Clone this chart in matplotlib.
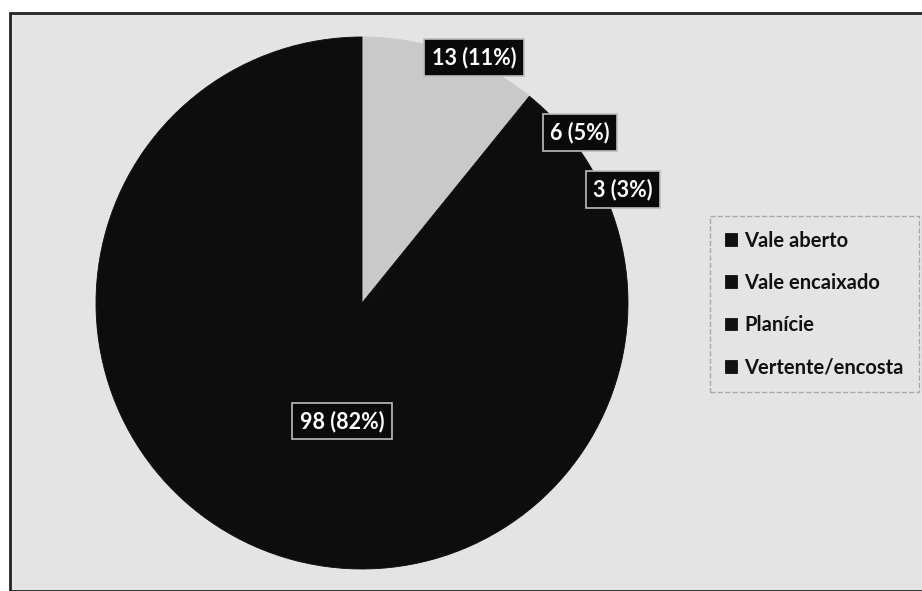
import numpy as np
import matplotlib.pyplot as plt
from matplotlib.patches import Rectangle

# relief classes and counts
categories = ["Vale aberto", "Vale encaixado", "Planície", "Vertente/encosta"]
counts = [13, 6, 3, 98]
percent_labels = ["11%", "5%", "3%", "82%"]

slice_colors = ["#c9c9c9", "#0d0d0d", "#0d0d0d", "#0d0d0d"]
legend_color = "#111111"

plt.rcParams["font.family"] = ["Lato", "DejaVu Sans"]

fig = plt.figure(figsize=(9.22, 5.91), dpi=100)
fig.patch.set_facecolor("white")

# chart area frame
fig.patches.append(Rectangle((10 / 922, 0), 1, 1 - 13 / 591, transform=fig.transFigure,
                             facecolor="#e4e4e4", edgecolor="#222222", linewidth=2.0, zorder=-10))

ax = fig.add_axes([96 / 922, 22 / 591, 532 / 922, 532 / 591])
ax.patch.set_alpha(0)

wedges, _ = ax.pie(counts, colors=slice_colors, startangle=90, counterclock=False,
                   radius=1.0, wedgeprops=dict(linewidth=0.6))
for w, c in zip(wedges, slice_colors):
    w.set_edgecolor(c)

ax.set_xlim(-1, 1)
ax.set_ylim(-1, 1)
ax.axis("off")

# label placement: radius factor and angle shift (degrees) per slice
label_r = [1.015, 1.04, 1.07, 0.45]
label_shift = [-5, -4, -5, 23.5]
for w, n, p, r, s in zip(wedges, counts, percent_labels, label_r, label_shift):
    mid = np.deg2rad((w.theta1 + w.theta2) / 2 + s)
    ax.text(r * np.cos(mid), r * np.sin(mid), f"{n} ({p})", ha="center", va="center",
            fontsize=15.5, color="white", fontweight="bold", clip_on=False,
            bbox=dict(boxstyle="square,pad=0.35", facecolor="#0a0a0a",
                      edgecolor="#bdbdbd", linewidth=1.2))

leg = fig.legend(wedges, categories, loc="center left", bbox_to_anchor=(710 / 922, 287 / 591),
                 frameon=True, fontsize=14.5, handlelength=0.6, handleheight=0.6,
                 handletextpad=0.35, labelspacing=1.1, borderpad=0.75, borderaxespad=0)
leg.get_frame().set_facecolor("#e4e4e4")
leg.get_frame().set_edgecolor("#9a9a9a")
leg.get_frame().set_linestyle("--")
leg.get_frame().set_boxstyle("square", pad=0)
for t in leg.get_texts():
    t.set_fontweight("bold")
    t.set_color("#111111")
for h in leg.legend_handles:
    h.set_facecolor(legend_color)
    h.set_edgecolor(legend_color)

fig.savefig("out.png", dpi=100)
